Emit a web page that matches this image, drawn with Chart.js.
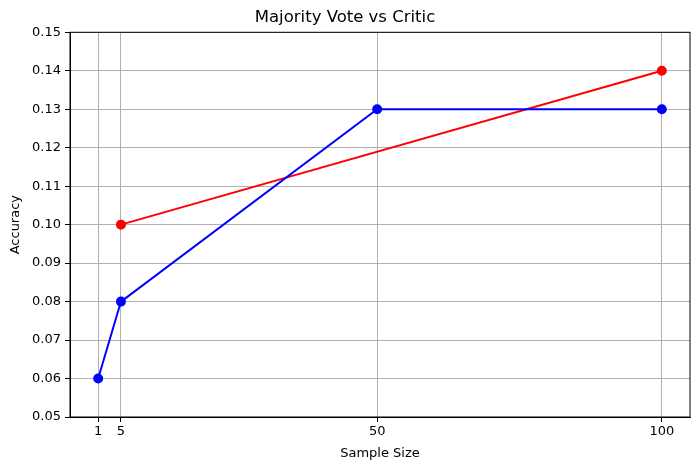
<!DOCTYPE html>
<html>
<head>
<meta charset="utf-8">
<script src="https://cdn.jsdelivr.net/npm/chart.js@4.4.1/dist/chart.umd.min.js"></script>
<style>
  html, body { margin: 0; padding: 0; background: #fff; }
  #wrap { width: 700px; height: 470px; }
</style>
</head>
<body>
<div id="wrap"><canvas id="chart" width="700" height="470"></canvas></div>
<script>
// values
const sampleSizes = [1, 5, 50, 100];
const majorityVote = [0.06, 0.08, 0.13, 0.13];
const criticSizes = [5, 100];
const criticAcc = [0.10, 0.14];
const xTicks = [1, 5, 50, 100];

const FONT = 'DejaVu Sans';

const toPoints = (xs, ys) => xs.map((x, i) => ({ x: x, y: ys[i] }));

// matplotlib style frame round the plot area
const framePlugin = {
    id: 'frame',
    afterDraw(chart) {
        const a = chart.chartArea;
        const ctx = chart.ctx;
        ctx.save();
        ctx.strokeStyle = '#000';
        ctx.lineWidth = 1;
        ctx.strokeRect(a.left, a.top, a.right - a.left, a.bottom - a.top);
        ctx.restore();
    }
};

new Chart(document.getElementById('chart').getContext('2d'), {
    type: 'scatter',
    data: {
        datasets: [
            {
                label: 'Majority Vote',
                data: toPoints(sampleSizes, majorityVote),
                showLine: true,
                borderColor: '#0000ff',
                backgroundColor: '#0000ff',
                borderWidth: 2,
                pointRadius: 4,
                pointHoverRadius: 4
            },
            {
                label: 'Critic',
                data: toPoints(criticSizes, criticAcc),
                showLine: true,
                borderColor: '#ff0000',
                backgroundColor: '#ff0000',
                borderWidth: 2,
                pointRadius: 4,
                pointHoverRadius: 4
            }
        ]
    },
    options: {
        responsive: false,
        animation: false,
        devicePixelRatio: 1,
        layout: { padding: { left: 0, right: 10, top: 0, bottom: 0 } },
        plugins: {
            legend: { display: false },
            tooltip: { enabled: false },
            title: {
                display: true,
                text: 'Majority Vote vs Critic',
                color: '#000',
                font: { family: FONT, size: 16.5, weight: 'normal' },
                padding: { top: 8, bottom: 4.5 }
            }
        },
        scales: {
            x: {
                type: 'linear',
                min: -3.95,
                max: 104.95,
                afterBuildTicks: axis => { axis.ticks = xTicks.map(v => ({ value: v })); },
                afterFit: scale => { scale.height = 53; },
                ticks: {
                    color: '#000',
                    font: { family: FONT, size: 13 },
                    padding: 2,
                    maxRotation: 0,
                    autoSkip: false
                },
                grid: { color: '#b0b0b0', lineWidth: 1, tickColor: '#000', tickLength: 5 },
                border: { color: '#000' },
                title: {
                    display: true,
                    text: 'Sample Size',
                    color: '#000',
                    font: { family: FONT, size: 13 },
                    padding: { top: 4, bottom: 9 }
                }
            },
            y: {
                min: 0.05,
                max: 0.15,
                afterFit: scale => { scale.width = 70; },
                ticks: {
                    stepSize: 0.01,
                    color: '#000',
                    font: { family: FONT, size: 13 },
                    padding: 4,
                    callback: v => v.toFixed(2)
                },
                grid: { color: '#b0b0b0', lineWidth: 1, tickColor: '#000', tickLength: 5 },
                border: { color: '#000' },
                title: {
                    display: true,
                    text: 'Accuracy',
                    color: '#000',
                    font: { family: FONT, size: 13 },
                    padding: { top: 8, bottom: 4 }
                }
            }
        }
    },
    plugins: [framePlugin]
});
</script>
</body>
</html>
